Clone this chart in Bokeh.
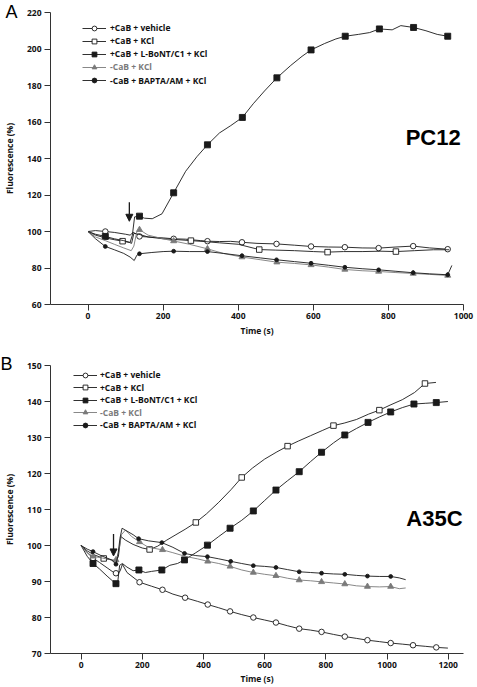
from bokeh.plotting import figure
from bokeh.models import (Range1d, FixedTicker, Legend, LegendItem, Label, Arrow,
                          NormalHead, Title)
from bokeh.layouts import column
from bokeh.embed import file_html
from bokeh.resources import INLINE
from bokeh.core.properties import value

# ---------------- labels ----------------
series_labels = ["+CaB + vehicle", "+CaB + KCl", "+CaB + L-BoNT/C1 + KCl",
                 "-CaB + KCl", "-CaB + BAPTA/AM + KCl"]
x_label = "Time (s)"
y_label = "Fluorescence (%)"

# ---------------- Panel A : PC12 ----------------
pc12_x_ticks = [0, 200, 400, 600, 800, 1000]
pc12_y_ticks = [60, 80, 100, 120, 140, 160, 180, 200, 220]

pc12_vehicle_t = [0, 20, 46, 70, 100, 112, 120, 130, 137, 160, 200, 228, 260, 300, 318, 350, 380, 410,
                  450, 502, 550, 594, 640, 684, 730, 774, 820, 866, 910, 958]
pc12_vehicle_v = [100, 100.5, 100, 99.5, 98.5, 98, 99.5, 98.5, 97.3, 97, 96.5, 96, 95.8, 95, 94.7, 94.5,
                  94.6, 94.1, 93.5, 93.2, 92.5, 91.8, 91.5, 91.4, 91, 90.9, 91.5, 92, 91, 90.3]
pc12_vehicle_mt = [46, 137, 228, 318, 410, 502, 594, 684, 774, 866, 958]
pc12_vehicle_mv = [100, 97.3, 96, 94.7, 94.1, 93.2, 91.8, 91.4, 90.9, 92, 90.3]

pc12_kcl_t = [0, 20, 46, 70, 92, 110, 116, 122, 135, 160, 200, 240, 274, 310, 350, 400, 456, 500, 550,
              600, 638, 680, 730, 780, 820, 870, 920, 962]
pc12_kcl_v = [100, 98, 96.5, 95.5, 94.7, 94, 93.5, 99, 98.5, 97, 96, 95.5, 95, 94.5, 93.8, 93, 90.1,
              89.8, 89.5, 89, 88.7, 89, 89, 89.2, 89, 89.5, 90, 90]
pc12_kcl_mt = [92, 274, 456, 638, 820]
pc12_kcl_mv = [94.7, 95, 90.1, 88.7, 89]

pc12_bont_t = [0, 20, 46, 70, 95, 112, 118, 124, 137, 150, 171, 197, 228, 260, 290, 318, 350, 380, 411,
               440, 470, 503, 540, 570, 594, 630, 660, 685, 720, 750, 776, 810, 833, 867, 900, 930, 958]
pc12_bont_v = [100, 98.5, 97.3, 96, 95, 94, 98, 108, 108.4, 107.3, 107, 109.7, 121.2, 133, 141, 147.5,
               154, 158, 162.5, 170, 177, 184.2, 191, 196, 199.5, 203, 205.5, 207, 208, 209, 211, 210.5,
               212.8, 211.8, 210, 208, 207]
pc12_bont_mt = [46, 137, 228, 318, 411, 503, 594, 685, 776, 867, 958]
pc12_bont_mv = [97.3, 108.4, 121.2, 147.5, 162.5, 184.2, 199.5, 207, 211, 211.8, 207]

pc12_nocab_t = [0, 20, 46, 70, 95, 115, 122, 130, 137, 160, 200, 228, 270, 318, 360, 410, 460, 503, 550,
                594, 640, 684, 730, 774, 820, 866, 910, 958]
pc12_nocab_v = [100, 97, 95, 93, 91, 89.5, 92, 100, 101, 98, 96, 94.8, 93, 90.5, 88, 86, 84.5, 83.2,
                82.5, 81.7, 80.5, 79.2, 78.5, 78.1, 77.5, 77, 76.5, 75.9]
pc12_nocab_mt = [137, 228, 318, 410, 503, 594, 684, 774, 866, 958]
pc12_nocab_mv = [101, 94.8, 90.5, 86, 83.2, 81.7, 79.2, 78.1, 77, 75.9]

pc12_bapta_t = [0, 20, 46, 70, 95, 112, 123, 130, 137, 170, 200, 228, 270, 318, 360, 410, 460, 502, 550,
                594, 640, 684, 730, 774, 820, 866, 910, 958, 969]
pc12_bapta_v = [100, 96, 91.8, 90, 88, 86, 84.1, 87, 87.8, 88.5, 89, 89.2, 89, 89, 88, 86.7, 85.5, 84.5,
                83.5, 82.6, 81.5, 80.4, 79.6, 79, 78.2, 77.4, 76.8, 76.3, 81.4]
pc12_bapta_mt = [46, 137, 228, 318, 410, 502, 594, 684, 774, 866, 958]
pc12_bapta_mv = [91.8, 87.8, 89.2, 89, 86.7, 84.5, 82.6, 80.4, 79, 77.4, 76.3]

pc12_arrow_t = 110
pc12_arrow_from = 116
pc12_arrow_to = 105.6

# ---------------- Panel B : A35C ----------------
a35c_x_ticks = [0, 200, 400, 600, 800, 1000, 1200]
a35c_y_ticks = [70, 80, 90, 100, 110, 120, 130, 140, 150]

a35c_vehicle_t = [0, 20, 39, 60, 85, 105, 114, 120, 128, 135, 150, 191, 230, 266, 300, 340, 380, 414,
                  450, 487, 525, 563, 600, 637, 675, 713, 750, 786, 825, 862, 900, 936, 975, 1012, 1050,
                  1085, 1125, 1161, 1199]
a35c_vehicle_v = [100, 98, 96.5, 95.3, 93.8, 92.6, 92.3, 92, 93, 94.8, 92.5, 89.8, 88.7, 87.7, 86.5,
                  85.5, 84.5, 83.6, 82.7, 81.7, 80.8, 80, 79.3, 78.6, 77.7, 76.9, 76.5, 76, 75.3, 74.7,
                  74.2, 73.7, 73.3, 72.9, 72.6, 72.3, 72, 71.7, 71.5]
a35c_vehicle_mt = [39, 114, 191, 266, 340, 414, 487, 563, 637, 713, 786, 862, 936, 1012, 1085, 1161]
a35c_vehicle_mv = [96.5, 92.3, 89.8, 87.7, 85.5, 83.6, 81.7, 80, 78.6, 76.9, 76, 74.7, 73.7, 72.9,
                   72.3, 71.7]

a35c_kcl_t = [0, 20, 40, 74, 100, 114, 122, 130, 145, 170, 200, 224, 250, 280, 310, 340, 375, 410, 450,
              490, 525, 560, 600, 640, 675, 710, 750, 790, 825, 860, 900, 940, 975, 1010, 1050, 1090,
              1124, 1160]
a35c_kcl_v = [100, 98.5, 97.5, 96.4, 96, 95.5, 97, 102.5, 101.5, 100.3, 99.3, 98.9, 99.8, 101.5, 103,
              104.5, 106.4, 108.8, 112, 115.5, 118.9, 121.5, 124, 126, 127.6, 129, 130.5, 132, 133.3,
              134, 135, 136.5, 137.6, 139, 140.5, 142.5, 145, 145.3]
a35c_kcl_mt = [74, 224, 375, 525, 675, 825, 975, 1124]
a35c_kcl_mv = [96.4, 98.9, 106.4, 118.9, 127.6, 133.3, 137.6, 145]

a35c_bont_t = [0, 20, 39, 60, 85, 105, 114, 120, 126, 135, 150, 170, 189, 210, 230, 264, 290, 315, 338,
               375, 413, 450, 487, 525, 563, 600, 637, 675, 713, 750, 786, 825, 862, 900, 938, 975, 1012,
               1050, 1088, 1125, 1161, 1199]
a35c_bont_v = [100, 97, 95, 93.5, 91.5, 90, 89.4, 90, 94.5, 95, 94, 93, 93.2, 92.5, 92.8, 93.2, 94.5,
               95, 96, 98, 100.1, 102.5, 104.8, 107, 109.6, 112.5, 115.4, 118, 120.5, 123.3, 125.9,
               128.5, 130.7, 132.5, 134.2, 135.7, 137.1, 138.3, 139.3, 139.5, 139.7, 140]
a35c_bont_mt = [39, 114, 189, 264, 338, 413, 487, 563, 637, 713, 786, 862, 938, 1012, 1088, 1161]
a35c_bont_mv = [95, 89.4, 93.2, 93.2, 96, 100.1, 104.8, 109.6, 115.4, 120.5, 125.9, 130.7, 134.2,
                137.1, 139.3, 139.7]

a35c_nocab_t = [0, 20, 39, 70, 100, 114, 122, 132, 145, 165, 191, 220, 266, 300, 340, 380, 414, 450, 487,
                525, 563, 600, 637, 675, 713, 750, 786, 825, 862, 900, 936, 975, 1012, 1040, 1061]
a35c_nocab_v = [100, 98, 97, 96.5, 96, 96, 98, 103, 104.3, 102.5, 101, 99.5, 98.8, 98, 97, 96.3, 95.6,
                95, 94.2, 93.2, 92.5, 92, 91.6, 90.9, 90.4, 90.2, 89.9, 89.6, 89.3, 88.8, 88.6, 88.5,
                88.6, 88, 88.2]
a35c_nocab_mt = [39, 114, 191, 266, 414, 487, 563, 637, 713, 786, 862, 936, 1012]
a35c_nocab_mv = [97, 96, 101, 98.8, 95.6, 94.2, 92.5, 91.6, 90.4, 89.9, 89.3, 88.6, 88.6]

a35c_bapta_t = [0, 20, 39, 70, 100, 114, 120, 127, 134, 150, 170, 188, 220, 264, 300, 338, 375, 413, 450,
                489, 525, 563, 600, 637, 675, 713, 750, 786, 825, 862, 900, 936, 975, 1012, 1040, 1061]
a35c_bapta_v = [100, 99, 98.3, 97, 96, 94.8, 97, 102, 104.8, 104, 103, 101.9, 101.3, 100.8, 99.5, 97.8,
                97.2, 96.9, 96.3, 95.6, 95, 94.4, 94.2, 93.9, 93.3, 92.7, 92.5, 92.3, 92.1, 92, 91.7,
                91.5, 91.4, 91.4, 91, 90.5]
a35c_bapta_mt = [39, 114, 188, 264, 338, 413, 489, 563, 637, 713, 786, 862, 936, 1012]
a35c_bapta_mv = [98.3, 94.8, 101.9, 100.8, 97.8, 96.9, 95.6, 94.4, 93.9, 92.7, 92.3, 92, 91.5, 91.4]

a35c_arrow_t = 106
a35c_arrow_from = 103.2
a35c_arrow_to = 97.1

# ---------------- styles ----------------
FONT = "Open Sans"
TICK_SIZE = "8.5px"
BLACK = "#1a1a1a"
GRAY = "#7a7a7a"
styles = [
    dict(marker="circle", fill="white", color=BLACK, size=5.5),
    dict(marker="square", fill="white", color=BLACK, size=5.5),
    dict(marker="square", fill=BLACK, color=BLACK, size=6),
    dict(marker="triangle", fill=GRAY, color=GRAY, size=6),
    dict(marker="circle", fill=BLACK, color=BLACK, size=3.8),
]


def make_panel(width, height, xr, yr, xticks, yticks, borders, series, arrow, cell_label,
               cell_xy, legend_cfg, ylab_standoff, xlab_standoff, letter, letter_offset,
               letter_standoff):
    bl, br, bt, bb = borders
    p = figure(width=width, height=height, x_range=Range1d(*xr), y_range=Range1d(*yr),
               output_backend="svg", toolbar_location=None,
               min_border_left=bl, min_border_right=br, min_border_top=bt, min_border_bottom=bb)
    p.outline_line_color = None
    p.grid.visible = False
    p.background_fill_color = "white"
    p.border_fill_color = "white"
    p.xaxis.ticker = FixedTicker(ticks=xticks)
    p.yaxis.ticker = FixedTicker(ticks=yticks)
    p.xaxis.axis_label = x_label
    p.yaxis.axis_label = y_label
    for ax in (p.xaxis, p.yaxis):
        ax.axis_line_color = "#333333"
        ax.axis_line_width = 1
        ax.major_tick_line_color = "#333333"
        ax.major_tick_out = 6
        ax.major_tick_in = 0
        ax.minor_tick_line_color = None
        ax.major_label_text_font = FONT
        ax.major_label_text_font_style = "bold"
        ax.major_label_text_font_size = TICK_SIZE
        ax.major_label_text_color = "#111111"
        ax.axis_label_text_font = FONT
        ax.axis_label_text_font_style = "bold"
        ax.axis_label_text_font_size = TICK_SIZE
        ax.axis_label_text_color = "#111111"
    p.xaxis.major_label_standoff = 2
    p.yaxis.major_label_standoff = 3
    p.yaxis.axis_label_standoff = ylab_standoff
    p.xaxis.axis_label_standoff = xlab_standoff

    pairs = []
    for (t, v, mt, mv), st in zip(series, styles):
        lr = p.line(t, v, line_color=st["color"], line_width=0.9)
        sr = p.scatter(mt, mv, marker=st["marker"], size=st["size"], fill_color=st["fill"],
                       line_color=st["color"], line_width=0.9)
        pairs.append((lr, sr))

    p.add_layout(Arrow(end=NormalHead(size=7, fill_color=BLACK, line_color=BLACK, line_width=1),
                       x_start=arrow[0], y_start=arrow[1], x_end=arrow[0], y_end=arrow[2],
                       line_color=BLACK, line_width=1.3))

    p.add_layout(Label(x=cell_xy[0], y=cell_xy[1], text=cell_label, text_font="Liberation Sans",
                       text_font_style="bold", text_font_size="22px", text_color="#000000",
                       text_align="left", text_baseline="alphabetic"))

    # panel letter as a title that reaches down beside the top tick label
    p.add_layout(Title(text=letter, align="left", offset=letter_offset, standoff=letter_standoff,
                       text_font="Liberation Sans", text_font_size="18px",
                       text_font_style="normal", text_color="#000000"), "above")

    x0, frame_h, first_center, step, standoff = legend_cfg
    for i, (lab, (lr, sr)) in enumerate(zip(series_labels, pairs)):
        center = first_center + step * i
        vy = frame_h - center - 6
        col = GRAY if i == 3 else "#111111"
        leg = Legend(items=[LegendItem(label=lab, renderers=[lr, sr])], location=(x0, vy),
                     orientation="vertical", padding=0, margin=0, spacing=0,
                     glyph_width=24, glyph_height=12, label_height=10, label_standoff=standoff,
                     border_line_color=None, background_fill_alpha=0,
                     label_text_font=FONT, label_text_font_style="bold",
                     label_text_font_size=TICK_SIZE, label_text_color=col)
        p.add_layout(leg)
    return p


pc12_series = [
    (pc12_vehicle_t, pc12_vehicle_v, pc12_vehicle_mt, pc12_vehicle_mv),
    (pc12_kcl_t, pc12_kcl_v, pc12_kcl_mt, pc12_kcl_mv),
    (pc12_bont_t, pc12_bont_v, pc12_bont_mt, pc12_bont_mv),
    (pc12_nocab_t, pc12_nocab_v, pc12_nocab_mt, pc12_nocab_mv),
    (pc12_bapta_t, pc12_bapta_v, pc12_bapta_mt, pc12_bapta_mv),
]
a35c_series = [
    (a35c_vehicle_t, a35c_vehicle_v, a35c_vehicle_mt, a35c_vehicle_mv),
    (a35c_kcl_t, a35c_kcl_v, a35c_kcl_mt, a35c_kcl_mv),
    (a35c_bont_t, a35c_bont_v, a35c_bont_mt, a35c_bont_mv),
    (a35c_nocab_t, a35c_nocab_v, a35c_nocab_mt, a35c_nocab_mv),
    (a35c_bapta_t, a35c_bapta_v, a35c_bapta_mt, a35c_bapta_mv),
]

pA = make_panel(477, 343, (-100, 1000), (60, 220), pc12_x_ticks, pc12_y_ticks,
                (47, 12, 12, 39), pc12_series,
                (pc12_arrow_t, pc12_arrow_from, pc12_arrow_to),
                "PC12", (846, 151.5),
                (32, 292, 15.5, 13.15, 4), 9, 3, "A", -45, -19.6)
pB = make_panel(477, 344, (-100, 1250), (70, 150), a35c_x_ticks, a35c_y_ticks,
                (50, 14, 22, 34), a35c_series,
                (a35c_arrow_t, a35c_arrow_from, a35c_arrow_to),
                "A35C", (1063, 107.4),
                (23, 288, 9.7, 12.5, 3), 9, 2, "B", -50, -17.6)

layout = column(pA, pB, spacing=0)
open("out.html", "w").write(file_html(layout, INLINE))
